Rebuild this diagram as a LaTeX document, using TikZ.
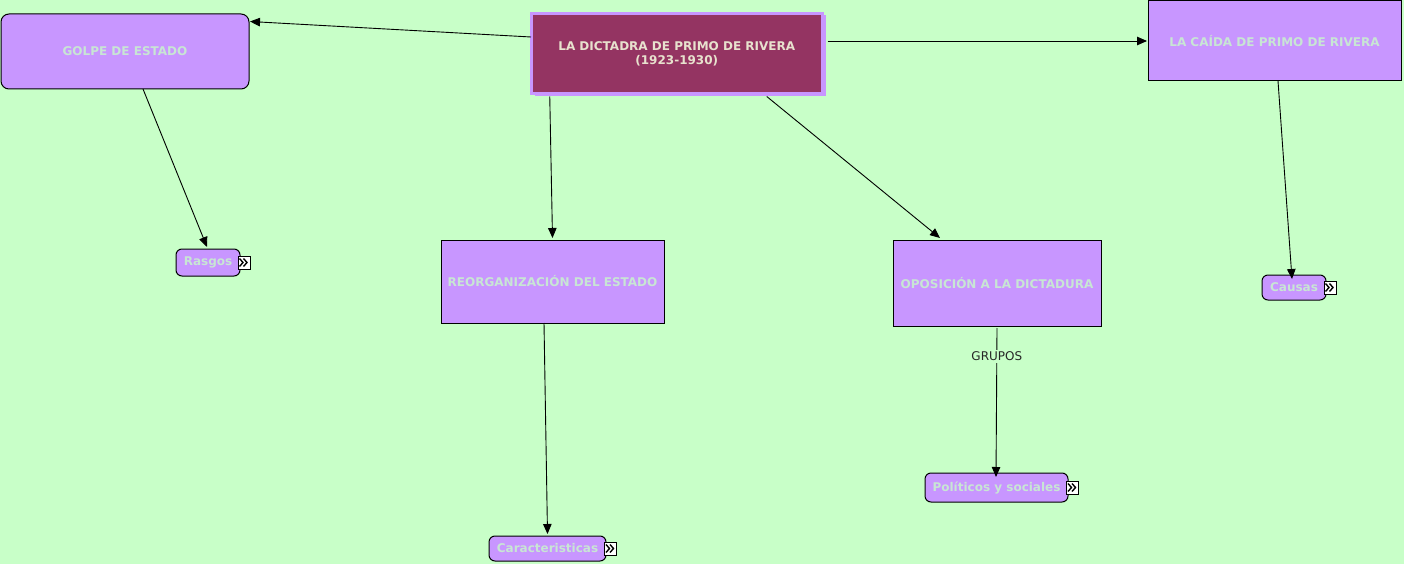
\documentclass[tikz,border=0pt]{standalone}
\usepackage{fontspec}
\setmainfont{DejaVu Sans}
\usetikzlibrary{arrows.meta,calc}
\definecolor{bg}{HTML}{C8FFC8}
\definecolor{lav}{HTML}{C896FF}
\definecolor{maroon}{HTML}{943462}
\definecolor{ntext}{HTML}{C8E6D4}
\definecolor{mtext}{HTML}{E8E2CE}
\tikzset{
  bigbox/.style={draw=black, line width=1pt, fill=lav, inner sep=0pt, outer sep=0pt,
    text=ntext, font=\fontsize{12}{14}\selectfont\bfseries, align=center},
  smallbox/.style={draw=black, line width=1pt, fill=lav, rounded corners=6pt, inner sep=0pt, outer sep=0pt,
    text=ntext, font=\fontsize{12}{14}\selectfont\bfseries},
  conn/.style={draw=black, line width=0.9pt, -{Triangle[length=10pt,width=8.5pt]}},
  moreicon/.pic={
    \draw[fill=white, line width=0.8pt] (-6,-6.5) rectangle (6,6.5);
    \draw[line width=1.4pt] (-4.5,-4) -- (-1,0) -- (-4.5,4) (-0.5,-4) -- (3,0) -- (-0.5,4);
  }
}
\begin{document}
\begin{tikzpicture}[x=1pt,y=-1pt]
\fill[bg] (0,0) rectangle (1404,564);
\useasboundingbox (0,0) rectangle (1404,564);
% main node with shadow
\fill[lav] (535,15) rectangle (826,96);
\node[draw=lav, line width=3pt, fill=maroon, inner sep=0pt, outer sep=0pt,
  minimum width=291.5pt, minimum height=80pt, text=mtext,
  font=\fontsize{12}{14}\selectfont\bfseries, align=center]
  (main) at (676.75,53.5) {LA DICTADRA DE PRIMO DE RIVERA\\(1923-1930)};
% big nodes
\node[bigbox, rounded corners=8pt, minimum width=248pt, minimum height=75pt] (golpe) at (125,51.5) {\raisebox{-1pt}{GOLPE DE ESTADO}};
\node[bigbox, minimum width=253pt, minimum height=80pt] (caida) at (1274.5,41) {\raisebox{-1.5pt}{LA CAÍDA DE PRIMO DE RIVERA}};
\node[bigbox, minimum width=223pt, minimum height=83pt] (reorg) at (552.5,281.5) {\raisebox{-2.5pt}{REORGANIZACIÓN DEL ESTADO}};
\node[bigbox, minimum width=208pt, minimum height=86pt] (opos) at (997,283) {\raisebox{-2.5pt}{OPOSICIÓN A LA DICTADURA}};
% small nodes
\node[smallbox, minimum width=64pt, minimum height=27pt] (rasgos) at (208,262.5) {Rasgos};
\node[smallbox, minimum width=64pt, minimum height=25pt] (causas) at (1294,287.5) {Causas};
\node[smallbox, minimum width=143pt, minimum height=29pt] (pol) at (996.5,487.5) {\raisebox{-1pt}{Políticos y sociales}};
\node[smallbox, minimum width=117pt, minimum height=25pt] (carac) at (547.5,548.5) {\raisebox{-1pt}{Caracteristicas}};
% icons
\pic at ([xshift=4pt]rasgos.east) {moreicon};
\pic at ([xshift=4pt]causas.east) {moreicon};
\pic at ([xshift=4.5pt]pol.east) {moreicon};
\pic at ([xshift=4.5pt]carac.east) {moreicon};
% connectors
\draw[conn] ([yshift=16.5pt]main.west) -- ([xshift=1pt,yshift=30pt]golpe.east);
\draw[conn] ([xshift=5pt,yshift=12.5pt]main.east) -- ([xshift=-1pt]caida.west);
\draw[conn] ([xshift=-127pt,yshift=-3pt]main.south) -- ([yshift=2pt]reorg.north);
\draw[conn] ([xshift=90pt,yshift=-3pt]main.south) -- ([xshift=-57pt,yshift=2pt]opos.north);
\draw[conn] ([xshift=18pt]golpe.south) -- ([xshift=-1pt,yshift=2pt]rasgos.north);
\draw[conn] ([xshift=3.5pt]caida.south) -- ([xshift=-2pt,yshift=-4pt]causas.north);
\draw[conn] ([xshift=-8.5pt]reorg.south) -- ([yshift=2pt]carac.north);
\draw[conn] ([yshift=-2pt]opos.south) -- ([xshift=-0.5pt,yshift=-4pt]pol.north)
  node[pos=0.19, fill=bg, inner sep=2pt, text=black!85, font=\fontsize{12}{14}\selectfont] (grupos) {GRUPOS};
\end{tikzpicture}
\end{document}
